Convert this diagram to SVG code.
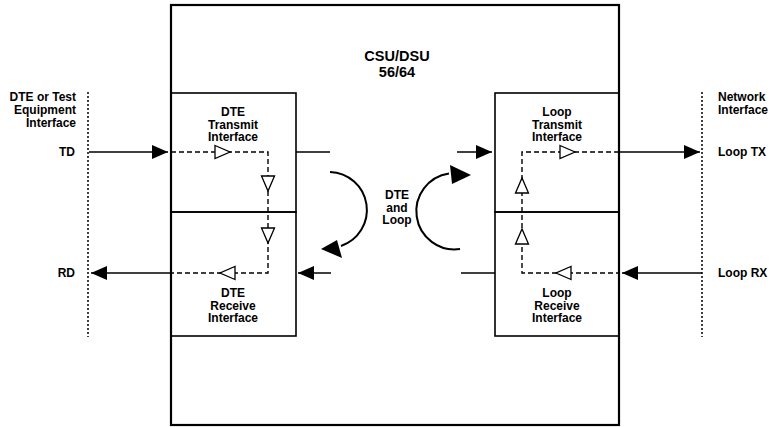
<svg xmlns="http://www.w3.org/2000/svg" xmlns:xlink="http://www.w3.org/1999/xlink" width="774" height="427" viewBox="0 0 774 427">
<style>
text{font-family:"Liberation Sans",Arial,sans-serif;font-weight:bold;font-size:12px;fill:#000}
.c{text-anchor:middle}
.e{text-anchor:end}
.big{font-size:14.5px}
.box{fill:none;stroke:#000;stroke-width:1.6}
.main{fill:#fff;stroke:#000;stroke-width:2.2}
.ln{fill:none;stroke:#000;stroke-width:1.4}
.dash{fill:none;stroke:#000;stroke-width:1.4;stroke-dasharray:5,3}
.dot{fill:none;stroke:#000;stroke-width:1.5;stroke-dasharray:2,2}
.arw{fill:none;stroke:#000;stroke-width:1.4;marker-end:url(#fa)}
.curve{fill:none;stroke:#000;stroke-width:2}
.ot{fill:#fff;stroke:#000;stroke-width:1.3}
</style>
<defs>
<marker id="fa" markerUnits="userSpaceOnUse" markerWidth="17" markerHeight="15" refX="16" refY="7" orient="auto">
<path d="M0,0 L16,7 L0,14 z" fill="#000"/>
</marker>
<polygon id="ot" class="ot" points="0,-6.5 15,0 0,6.5"/>
</defs>
<rect id="csu" class="main" x="171" y="5" width="448" height="420"/>
<g id="csu-label">
<text class="c big" x="397" y="61">CSU/DSU</text>
<text class="c big" x="397" y="77">56/64</text>
</g>
<g id="dte-transmit">
<rect class="box" x="171" y="93" width="125" height="119"/>
<text class="c" x="233" y="116">DTE</text>
<text class="c" x="233" y="128.5">Transmit</text>
<text class="c" x="233" y="141">Interface</text>
</g>
<g id="dte-receive">
<rect class="box" x="171" y="212" width="125" height="124"/>
<text class="c" x="233" y="297">DTE</text>
<text class="c" x="233" y="309.5">Receive</text>
<text class="c" x="233" y="322">Interface</text>
</g>
<g id="loop-transmit">
<rect class="box" x="495" y="93" width="124" height="119"/>
<text class="c" x="557" y="116">Loop</text>
<text class="c" x="557" y="128.5">Transmit</text>
<text class="c" x="557" y="141">Interface</text>
</g>
<g id="loop-receive">
<rect class="box" x="495" y="212" width="124" height="124"/>
<text class="c" x="557" y="297">Loop</text>
<text class="c" x="557" y="309.5">Receive</text>
<text class="c" x="557" y="322">Interface</text>
</g>
<g id="dte-interface">
<line class="dot" x1="88" y1="92" x2="88" y2="337"/>
<text class="e" x="76" y="101">DTE or Test</text>
<text class="e" x="76" y="114">Equipment</text>
<text class="e" x="76" y="127">Interface</text>
<text class="e" x="75" y="156">TD</text>
<text class="e" x="75" y="277">RD</text>
</g>
<g id="network-interface">
<line class="dot" x1="702" y1="92" x2="702" y2="337"/>
<text x="718" y="101">Network</text>
<text x="718" y="114">Interface</text>
<text x="718" y="156">Loop TX</text>
<text x="718" y="277">Loop RX</text>
</g>
<g id="loop-label">
<text class="c" x="397" y="199">DTE</text>
<text class="c" x="397" y="211.5">and</text>
<text class="c" x="397" y="224">Loop</text>
</g>
<g id="connectors">
<line class="arw" x1="89" y1="152" x2="168" y2="152"/>
<polyline class="dash" points="171,152 268,152 268,273 171,273"/>
<use xlink:href="#ot" transform="translate(215,152)"/>
<use xlink:href="#ot" transform="translate(268,176) rotate(90)"/>
<use xlink:href="#ot" transform="translate(268,228) rotate(90)"/>
<use xlink:href="#ot" transform="translate(235,273) rotate(180)"/>
<line class="arw" x1="171" y1="273" x2="91" y2="273"/>
<line class="ln" x1="296" y1="152" x2="330" y2="152"/>
<line class="arw" x1="331" y1="273" x2="298" y2="273"/>
<line class="arw" x1="457" y1="152" x2="492" y2="152"/>
<line class="ln" x1="461" y1="273" x2="495" y2="273"/>
<polyline class="dash" points="619,152 522,152 522,273 619,273"/>
<use xlink:href="#ot" transform="translate(560,152)"/>
<use xlink:href="#ot" transform="translate(522,193) rotate(-90)"/>
<use xlink:href="#ot" transform="translate(522,244) rotate(-90)"/>
<use xlink:href="#ot" transform="translate(571,273) rotate(180)"/>
<line class="arw" x1="619" y1="152" x2="700" y2="152"/>
<line class="arw" x1="702" y1="273" x2="622" y2="273"/>
<path class="curve" d="M330,172 A38,38 0 0 1 341,246"/>
<polygon points="321,249 337,240 342,258" fill="#000"/>
<path class="curve" d="M460,249 A38,38 0 0 1 449,173.5"/>
<polygon points="471,175 450,165 452,184" fill="#000"/>
</g>
</svg>
